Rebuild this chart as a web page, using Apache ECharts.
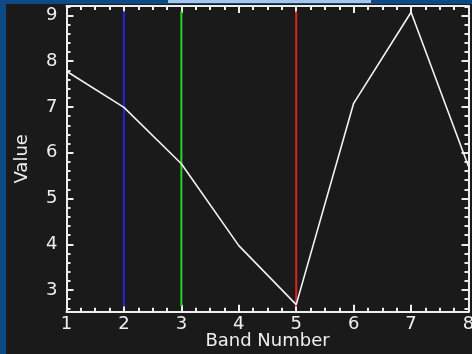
<!DOCTYPE html>
<html>
<head>
<meta charset="utf-8">
<style>
  html, body { margin: 0; padding: 0; background: #0d4a84; }
  #chart { width: 472px; height: 354px; }
</style>
<script src="https://cdn.jsdelivr.net/npm/echarts@6/dist/echarts.min.js"></script>
</head>
<body>
<div id="chart"></div>
<script>
// Spectral profile across bands
const bands = [1, 2, 3, 4, 5, 6, 7, 8];
const values = [7.78, 6.99, 5.76, 3.97, 2.68, 7.08, 9.07, 5.70];

// Band markers drawn as vertical lines
const markerBands = [2, 3, 5];
const markerColors = ['#2323d8', '#22d822', '#e02222'];
const markerLow = 2.64;
const markerHigh = 9.09;

// Axis ranges and tick labels
const xMin = 1, xMax = 8;
const yMin = 2.526, yMax = 9.207;
const yTickLabels = [3, 4, 5, 6, 7, 8, 9];

// Minor tick positions on the value axis: every 0.2 between the majors
const yMinorTicks = [];
for (let k = Math.ceil(yMin * 5); k <= Math.floor(yMax * 5); k++) {
  if (k % 5 !== 0) yMinorTicks.push(k / 5);
}

const fg = '#eeeeee';
const font = 'DejaVu Sans';

const chart = echarts.init(document.getElementById('chart'), null, { renderer: 'canvas' });

function xAxisDef(pos, withLabels) {
  return {
    type: 'value', position: pos, min: xMin, max: xMax, interval: 1,
    name: withLabels ? 'Band Number' : '',
    nameLocation: 'middle', nameGap: 21, nameMoveOverlap: false,
    nameTextStyle: { color: fg, fontFamily: font, fontSize: 18 },
    axisLine: { show: true, onZero: false, lineStyle: { color: fg, width: 2 } },
    axisTick: { show: true, inside: true, length: 7, lineStyle: { color: fg, width: 2 } },
    minorTick: { show: true, splitNumber: 4, length: 4, lineStyle: { color: fg, width: 2 } },
    axisLabel: { show: withLabels, color: fg, fontFamily: font, fontSize: 18, margin: 4 },
    splitLine: { show: false }, minorSplitLine: { show: false }
  };
}

function yAxisDef(pos, ticks, len, withLabels, withLine) {
  return {
    type: 'value', position: pos, min: yMin, max: yMax,
    name: withLabels ? 'Value' : '',
    nameLocation: 'middle', nameGap: 35, nameRotate: 90, nameMoveOverlap: false,
    nameTextStyle: { color: fg, fontFamily: font, fontSize: 18 },
    axisLine: { show: withLine, onZero: false, lineStyle: { color: fg, width: 2 } },
    axisTick: { show: true, inside: true, length: len, customValues: ticks,
                lineStyle: { color: fg, width: 2 } },
    axisLabel: { show: withLabels, customValues: withLabels ? ticks : undefined,
                 color: fg, fontFamily: font, fontSize: 18, margin: 9 },
    splitLine: { show: false }
  };
}

const series = [{
  type: 'line',
  data: bands.map((b, i) => [b, values[i]]),
  showSymbol: false,
  lineStyle: { color: '#f2f2f2', width: 1.6 },
  z: 3,
  animation: false
}];

markerBands.forEach((b, i) => {
  series.push({
    type: 'line',
    data: [[b, markerLow], [b, markerHigh]],
    showSymbol: false,
    lineStyle: { color: markerColors[i], width: 2 },
    z: 2,
    animation: false
  });
});

chart.setOption({
  backgroundColor: '#1a1a1a',
  animation: false,
  graphic: [
    { type: 'rect', shape: { x: 0, y: 0, width: 6, height: 354 }, style: { fill: '#0d4a84' } },
    { type: 'rect', shape: { x: 0, y: 0, width: 472, height: 4 }, style: { fill: '#0d4a84' } },
    { type: 'rect', shape: { x: 168, y: 0, width: 203, height: 3 }, style: { fill: '#a9c6e6' } }
  ],
  grid: { left: 66.5, right: 3.5, top: 6, bottom: 42.3, containLabel: false, outerBoundsMode: 'none' },
  xAxis: [xAxisDef('bottom', true), xAxisDef('top', false)],
  yAxis: [
    yAxisDef('left', yTickLabels, 7, true, true),
    yAxisDef('left', yMinorTicks, 4, false, false),
    yAxisDef('right', yTickLabels, 7, false, true),
    yAxisDef('right', yMinorTicks, 4, false, false)
  ],
  series: series
});
</script>
</body>
</html>
